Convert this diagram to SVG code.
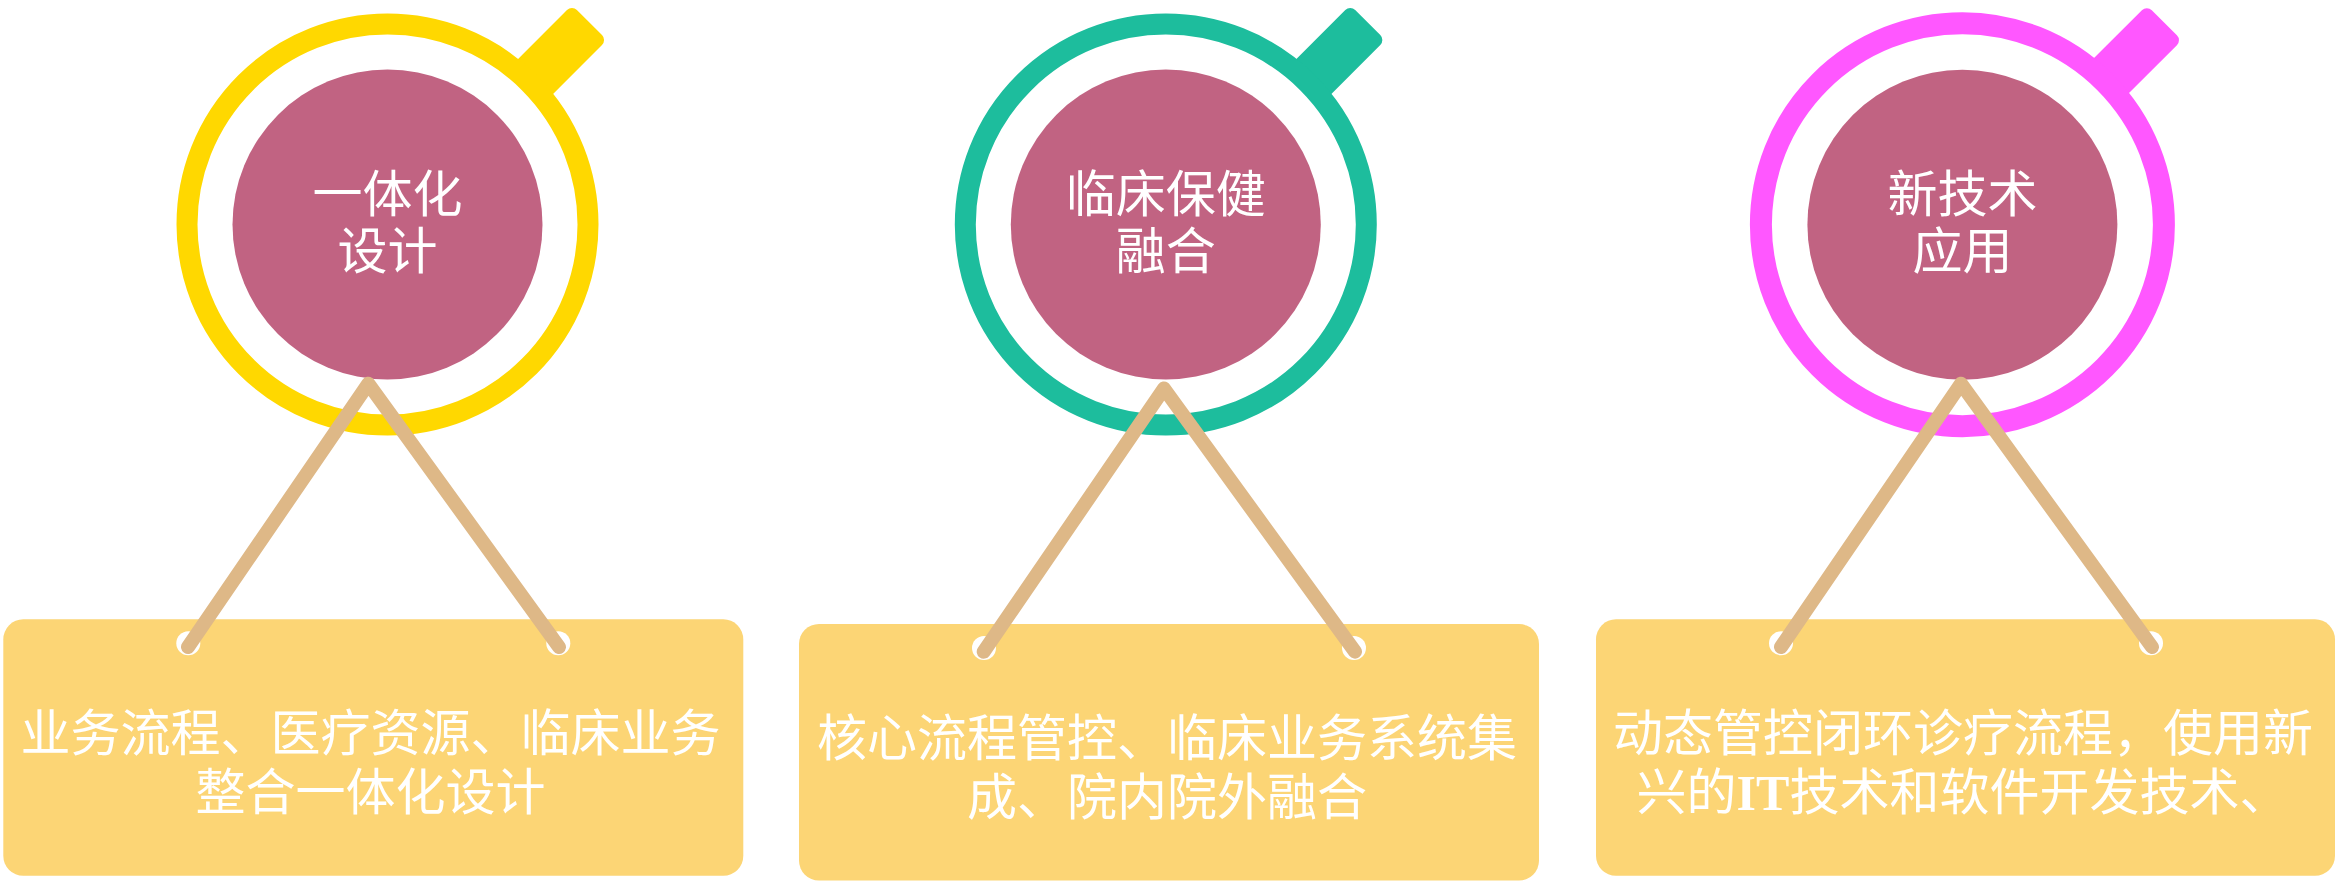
<svg xmlns="http://www.w3.org/2000/svg" width="2337" height="881" viewBox="0 0 2337 881">
<defs>
<style>
.ring{fill:none}
.core{fill:#C16382}
.title{fill:#FFFFFF;font-family:"Liberation Serif","Noto Sans CJK SC",serif;font-size:50px;text-anchor:middle}
.card{fill:#FCD575}
.eye{fill:#FFFFFF}
.body{fill:#FFFFFF;font-family:"Liberation Serif","Noto Sans CJK SC",serif;font-size:50px;text-anchor:middle}
.hang{fill:none;stroke:#DEB887;stroke-width:14;stroke-linecap:round;stroke-linejoin:round}
</style>
</defs>
<rect x="0" y="0" width="2337" height="881" fill="#FFFFFF"/>

<g id="node-circle-1">
<g transform="translate(387.5,224.5) rotate(-45)"><rect x="195" y="-24.75" width="90.6" height="49.5" rx="7" fill="#FFD800"/></g>
<circle class="ring" cx="387.5" cy="224.5" r="200.5" stroke="#FFD800" stroke-width="21"/>
<circle class="core" cx="387.5" cy="224.5" r="155"/>
<text class="title" x="387.5" y="212">一体化</text>
<text class="title" x="387.5" y="268.5">设计</text>
</g>

<g id="node-circle-2">
<g transform="translate(1165.8,224.5) rotate(-45)"><rect x="195" y="-24.75" width="90.6" height="49.5" rx="7" fill="#1DBD9D"/></g>
<circle class="ring" cx="1165.8" cy="224.5" r="200.5" stroke="#1DBD9D" stroke-width="21"/>
<circle class="core" cx="1165.8" cy="224.5" r="155"/>
<text class="title" x="1165.8" y="212">临床保健</text>
<text class="title" x="1165.8" y="268.5">融合</text>
</g>

<g id="node-circle-3">
<g transform="translate(1962.4,224.7) rotate(-45)"><rect x="195" y="-24.75" width="90.6" height="49.5" rx="7" fill="#FF57FF"/></g>
<circle class="ring" cx="1962.4" cy="224.7" r="201.5" stroke="#FF57FF" stroke-width="22"/>
<circle class="core" cx="1962.4" cy="224.7" r="155"/>
<text class="title" x="1962.4" y="212">新技术</text>
<text class="title" x="1962.4" y="268.5">应用</text>
</g>

<g id="node-card-1">
<rect class="card" x="3.3" y="619.3" width="740" height="256.5" rx="20"/>
<circle class="eye" cx="188.3" cy="643.3" r="12"/>
<circle class="eye" cx="558.3" cy="643.3" r="12"/>
<text class="body" x="370.5" y="751.3">业务流程、医疗资源、临床业务</text>
<text class="body" x="370.5" y="810.3">整合一体化设计</text>
</g>

<g id="node-card-2">
<rect class="card" x="799" y="624" width="740" height="256.5" rx="20"/>
<circle class="eye" cx="984" cy="648" r="12"/>
<circle class="eye" cx="1354" cy="648" r="12"/>
<text class="body" x="1167" y="756">核心流程管控、临床业务系统集</text>
<text class="body" x="1167" y="815">成、院内院外融合</text>
</g>

<g id="node-card-3">
<rect class="card" x="1596" y="619.3" width="739" height="256.5" rx="20"/>
<circle class="eye" cx="1781" cy="643.3" r="12"/>
<circle class="eye" cx="2151" cy="643.3" r="12"/>
<text class="body" x="1963" y="751.3">动态管控闭环诊疗流程，使用新</text>
<text class="body" x="1963" y="810.3">兴的<tspan font-weight="bold">IT</tspan>技术和软件开发技术、</text>
</g>

<g id="connectors">
<polyline class="hang" points="188,647 368.3,383.7 559,647"/>
<polyline class="hang" points="983.7,651.7 1164,388.5 1355,651.7"/>
<polyline class="hang" points="1781,647 1961,383.7 2152,647"/>
</g>
</svg>
